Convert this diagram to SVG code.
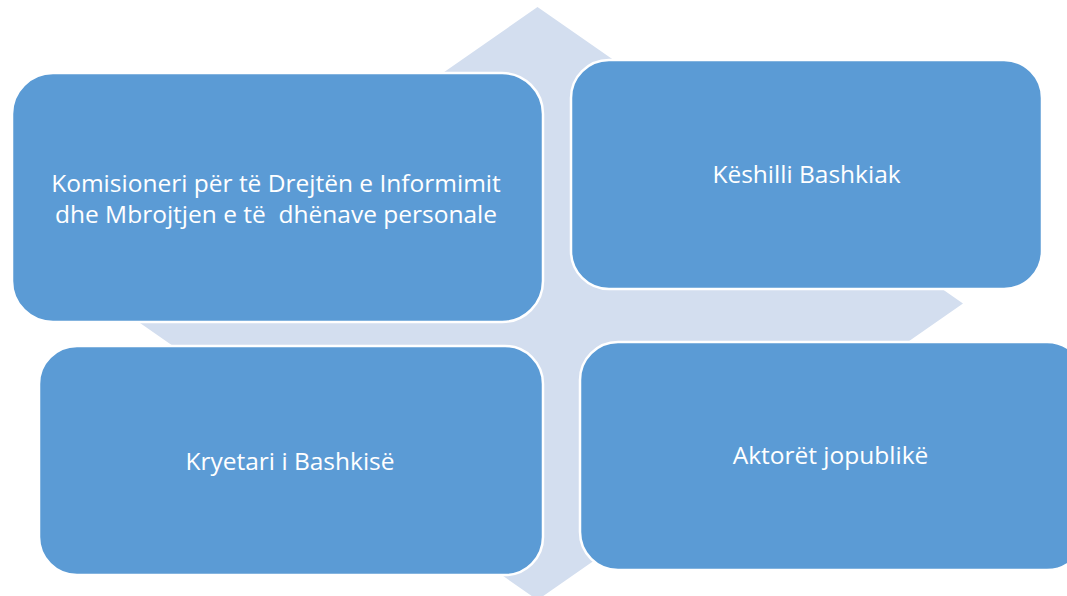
<svg xmlns="http://www.w3.org/2000/svg" width="1067" height="596" viewBox="0 0 1067 596">
<style>
.box{fill:#5b9bd5;stroke:#ffffff;stroke-width:2.5}
.lbl{fill:#ffffff;font-family:"Open Sans","Liberation Sans",sans-serif;font-size:24.5px;text-anchor:middle}
</style>
<rect width="1067" height="596" fill="#ffffff"/>
<g id="connectors">
<path id="quad-arrow" fill="#d3deef" d="M537.5,7 L728.5,140 L633.5,140 L633.5,236.8 L772,236.8 L772,170.5 L963,303.5 L772,436.5 L772,370.2 L633.5,370.2 L633.5,467 L728.5,467 L537.5,600 L346.5,467 L441.5,467 L441.5,370.2 L303,370.2 L303,436.5 L112,303.5 L303,170.5 L303,236.8 L441.5,236.8 L441.5,140 L346.5,140 Z"/>
</g>
<g id="node-komisioneri">
<rect class="box" x="12" y="73" width="531" height="249" rx="41" ry="41"/>
<text class="lbl" x="276" y="192">Komisioneri për të Drejtën e Informimit</text>
<text class="lbl" x="276" y="223" xml:space="preserve">dhe Mbrojtjen e të  dhënave personale</text>
</g>
<g id="node-keshilli">
<rect class="box" x="571" y="60" width="471" height="229" rx="38" ry="38"/>
<text class="lbl" x="806.5" y="183">Këshilli Bashkiak</text>
</g>
<g id="node-kryetari">
<rect class="box" x="39" y="346" width="504" height="229" rx="38" ry="38"/>
<text class="lbl" x="290" y="470">Kryetari i Bashkisë</text>
</g>
<g id="node-aktoret">
<rect class="box" x="580" y="342" width="505" height="228" rx="38" ry="38"/>
<text class="lbl" x="830.5" y="464">Aktorët jopublikë</text>
</g>
</svg>
